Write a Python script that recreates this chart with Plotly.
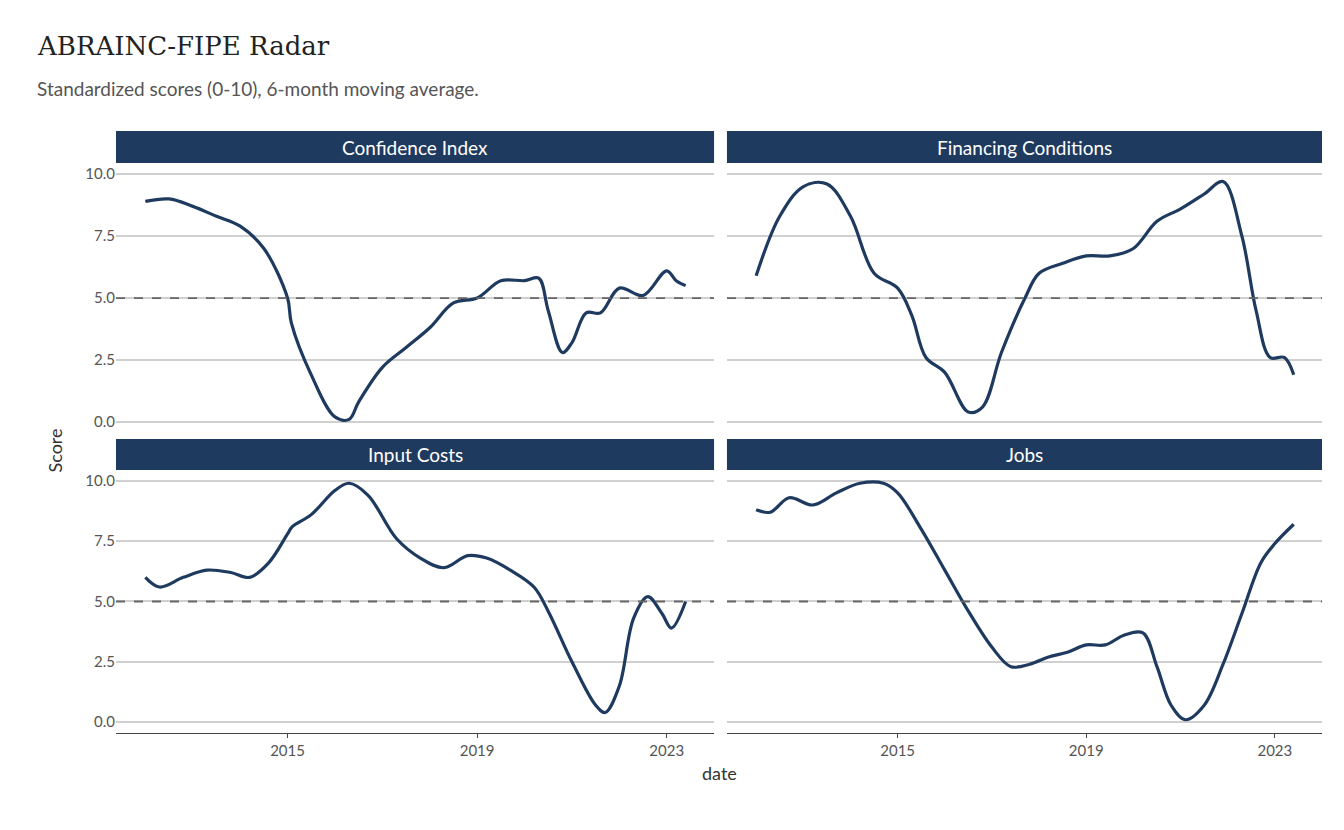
import plotly.graph_objects as go
import pandas as pd

def to_dates(yrs):
    return [pd.Timestamp(int(y), 1, 1) + pd.Timedelta(days=(y - int(y)) * 365.25) for y in yrs]

conf_t = [2012.0,2012.5,2013.0,2013.5,2014.0,2014.5,2015.0,2015.08,2015.5,2016.0,2016.3,2016.5,2017.0,2017.5,2018.0,2018.5,2019.0,2019.5,2020.0,2020.3,2020.5,2020.8,2021.0,2021.3,2021.6,2022.0,2022.5,2023.0,2023.2,2023.4]
conf_v = [8.9,9.0,8.7,8.3,7.9,7.0,5.0,4.0,1.9,0.2,0.1,0.8,2.2,3.0,3.8,4.8,5.0,5.7,5.7,5.8,4.5,2.8,3.2,4.4,4.4,5.4,5.1,6.1,5.7,5.5]
fin_t = [2012.0,2012.5,2013.0,2013.5,2014.0,2014.5,2015.0,2015.3,2015.6,2016.0,2016.5,2016.8,2017.2,2017.7,2018.0,2018.5,2019.0,2019.5,2020.0,2020.5,2021.0,2021.5,2021.9,2022.3,2022.6,2022.9,2023.2,2023.4]
fin_v = [5.9,8.3,9.5,9.6,8.3,6.0,5.4,4.3,2.6,2.0,0.4,0.6,2.8,5.0,6.0,6.4,6.7,6.7,7.0,8.1,8.6,9.2,9.7,7.5,4.5,2.6,2.6,1.9]
inp_t = [2012.0,2012.3,2012.8,2013.3,2013.8,2014.2,2014.6,2015.0,2015.1,2015.5,2016.0,2016.3,2016.7,2017.3,2017.8,2018.3,2018.8,2019.2,2019.7,2020.2,2020.5,2021.0,2021.5,2021.7,2022.0,2022.3,2022.6,2022.9,2023.1,2023.4]
inp_v = [6.0,5.6,6.0,6.3,6.2,6.0,6.6,7.8,8.1,8.6,9.6,9.9,9.4,7.6,6.8,6.4,6.9,6.8,6.3,5.6,4.6,2.5,0.7,0.4,1.5,4.3,5.2,4.5,3.9,5.0]
job_t = [2012.0,2012.3,2012.7,2013.2,2013.7,2014.2,2014.7,2015.0,2015.5,2016.0,2016.5,2017.0,2017.4,2017.8,2018.2,2018.6,2019.0,2019.4,2019.8,2020.2,2020.5,2020.8,2021.1,2021.5,2021.9,2022.3,2022.7,2023.0,2023.4]
job_v = [8.8,8.7,9.3,9.0,9.5,9.9,9.9,9.5,8.0,6.3,4.6,3.1,2.3,2.4,2.7,2.9,3.2,3.2,3.6,3.7,2.3,0.7,0.1,0.7,2.4,4.5,6.6,7.4,8.2]

panels = ["Confidence Index", "Financing Conditions", "Input Costs", "Jobs"]
series = [(conf_t, conf_v), (fin_t, fin_v), (inp_t, inp_v), (job_t, job_v)]
y_ticks = [0, 2.5, 5, 7.5, 10]
x_ticks = ["2015-01-01", "2019-01-01", "2023-01-01"]
x_tick_labels = ["2015", "2019", "2023"]

NAVY = "#1f3a5f"
xd = [(0, 0.4959), (0.5066, 1.0)]
yd = [(0.4983, 0.9468), (0, 0.4369)]
strip_y = [(0.9468, 1.0), (0.4369, 0.4884)]

fig = go.Figure()
shapes, annotations = [], []
for i, (name, (t, v)) in enumerate(zip(panels, series)):
    r, c = divmod(i, 2)
    n = i + 1
    xa = "x" if n == 1 else f"x{n}"
    ya = "y" if n == 1 else f"y{n}"
    fig.add_trace(go.Scatter(x=to_dates(t), y=v, mode="lines", line=dict(color=NAVY, width=3.2, shape="spline", smoothing=1.0),
                             xaxis=xa, yaxis=ya, showlegend=False))
    fig.update_layout(**{
        ("xaxis" if n == 1 else f"xaxis{n}"): dict(domain=list(xd[c]), anchor=ya, range=["2011-05-20", "2024-01-01"],
            tickvals=x_ticks, ticktext=x_tick_labels, showticklabels=(r == 1), showgrid=False, zeroline=False, automargin=False,
            showline=(r == 1), linecolor="#444", linewidth=1, ticks="outside" if r == 1 else "", ticklen=4, tickcolor="#444",
            tickfont=dict(family="Lato", size=15, color="#555")),
        ("yaxis" if n == 1 else f"yaxis{n}"): dict(domain=list(yd[r]), anchor=xa, range=[-0.45, 10.45], automargin=False,
            tickvals=y_ticks, ticktext=["0.0", "2.5", "5.0", "7.5", "10.0"], showticklabels=(c == 0),
            showgrid=True, gridcolor="#d0d0d0", gridwidth=1.5, zeroline=False,
            tickfont=dict(family="Lato", size=15, color="#555")),
    })
    shapes.append(dict(type="line", xref=f"{xa} domain", yref=ya, x0=0, x1=1, y0=5, y1=5,
                       line=dict(color="#666", width=1.8, dash="dash")))
    shapes.append(dict(type="rect", xref="paper", yref="paper", x0=xd[c][0], x1=xd[c][1],
                       y0=strip_y[r][0], y1=strip_y[r][1], fillcolor=NAVY, line=dict(width=0), layer="below"))
    annotations.append(dict(text=name, xref="paper", yref="paper", x=(xd[c][0] + xd[c][1]) / 2,
                            y=(strip_y[r][0] + strip_y[r][1]) / 2, xanchor="center", yanchor="middle", showarrow=False,
                            font=dict(family="Lato", size=19, color="white")))

annotations += [
    dict(text="ABRAINC-FIPE Radar", xref="paper", yref="paper", x=-0.067, y=1.142, xanchor="left", yanchor="middle",
         showarrow=False, font=dict(family="DejaVu Serif", size=26, color="#222")),
    dict(text="Standardized scores (0-10), 6-month moving average.", xref="paper", yref="paper", x=-0.067, y=1.07,
         xanchor="left", yanchor="middle", showarrow=False, font=dict(family="Lato", size=19, color="#555")),
    dict(text="Score", xref="paper", yref="paper", x=-0.061, y=0.47, textangle=-90, showarrow=False,
         font=dict(family="Lato", size=18, color="#333")),
    dict(text="date", xref="paper", yref="paper", x=0.5, y=-0.088, showarrow=False,
         font=dict(family="Lato", size=18, color="#333")),
]
fig.update_layout(width=1344, height=830, margin=dict(l=108, r=30, t=123, b=105, autoexpand=False),
                  plot_bgcolor="white", paper_bgcolor="white", shapes=shapes, annotations=annotations)
fig.write_html("out.html")
